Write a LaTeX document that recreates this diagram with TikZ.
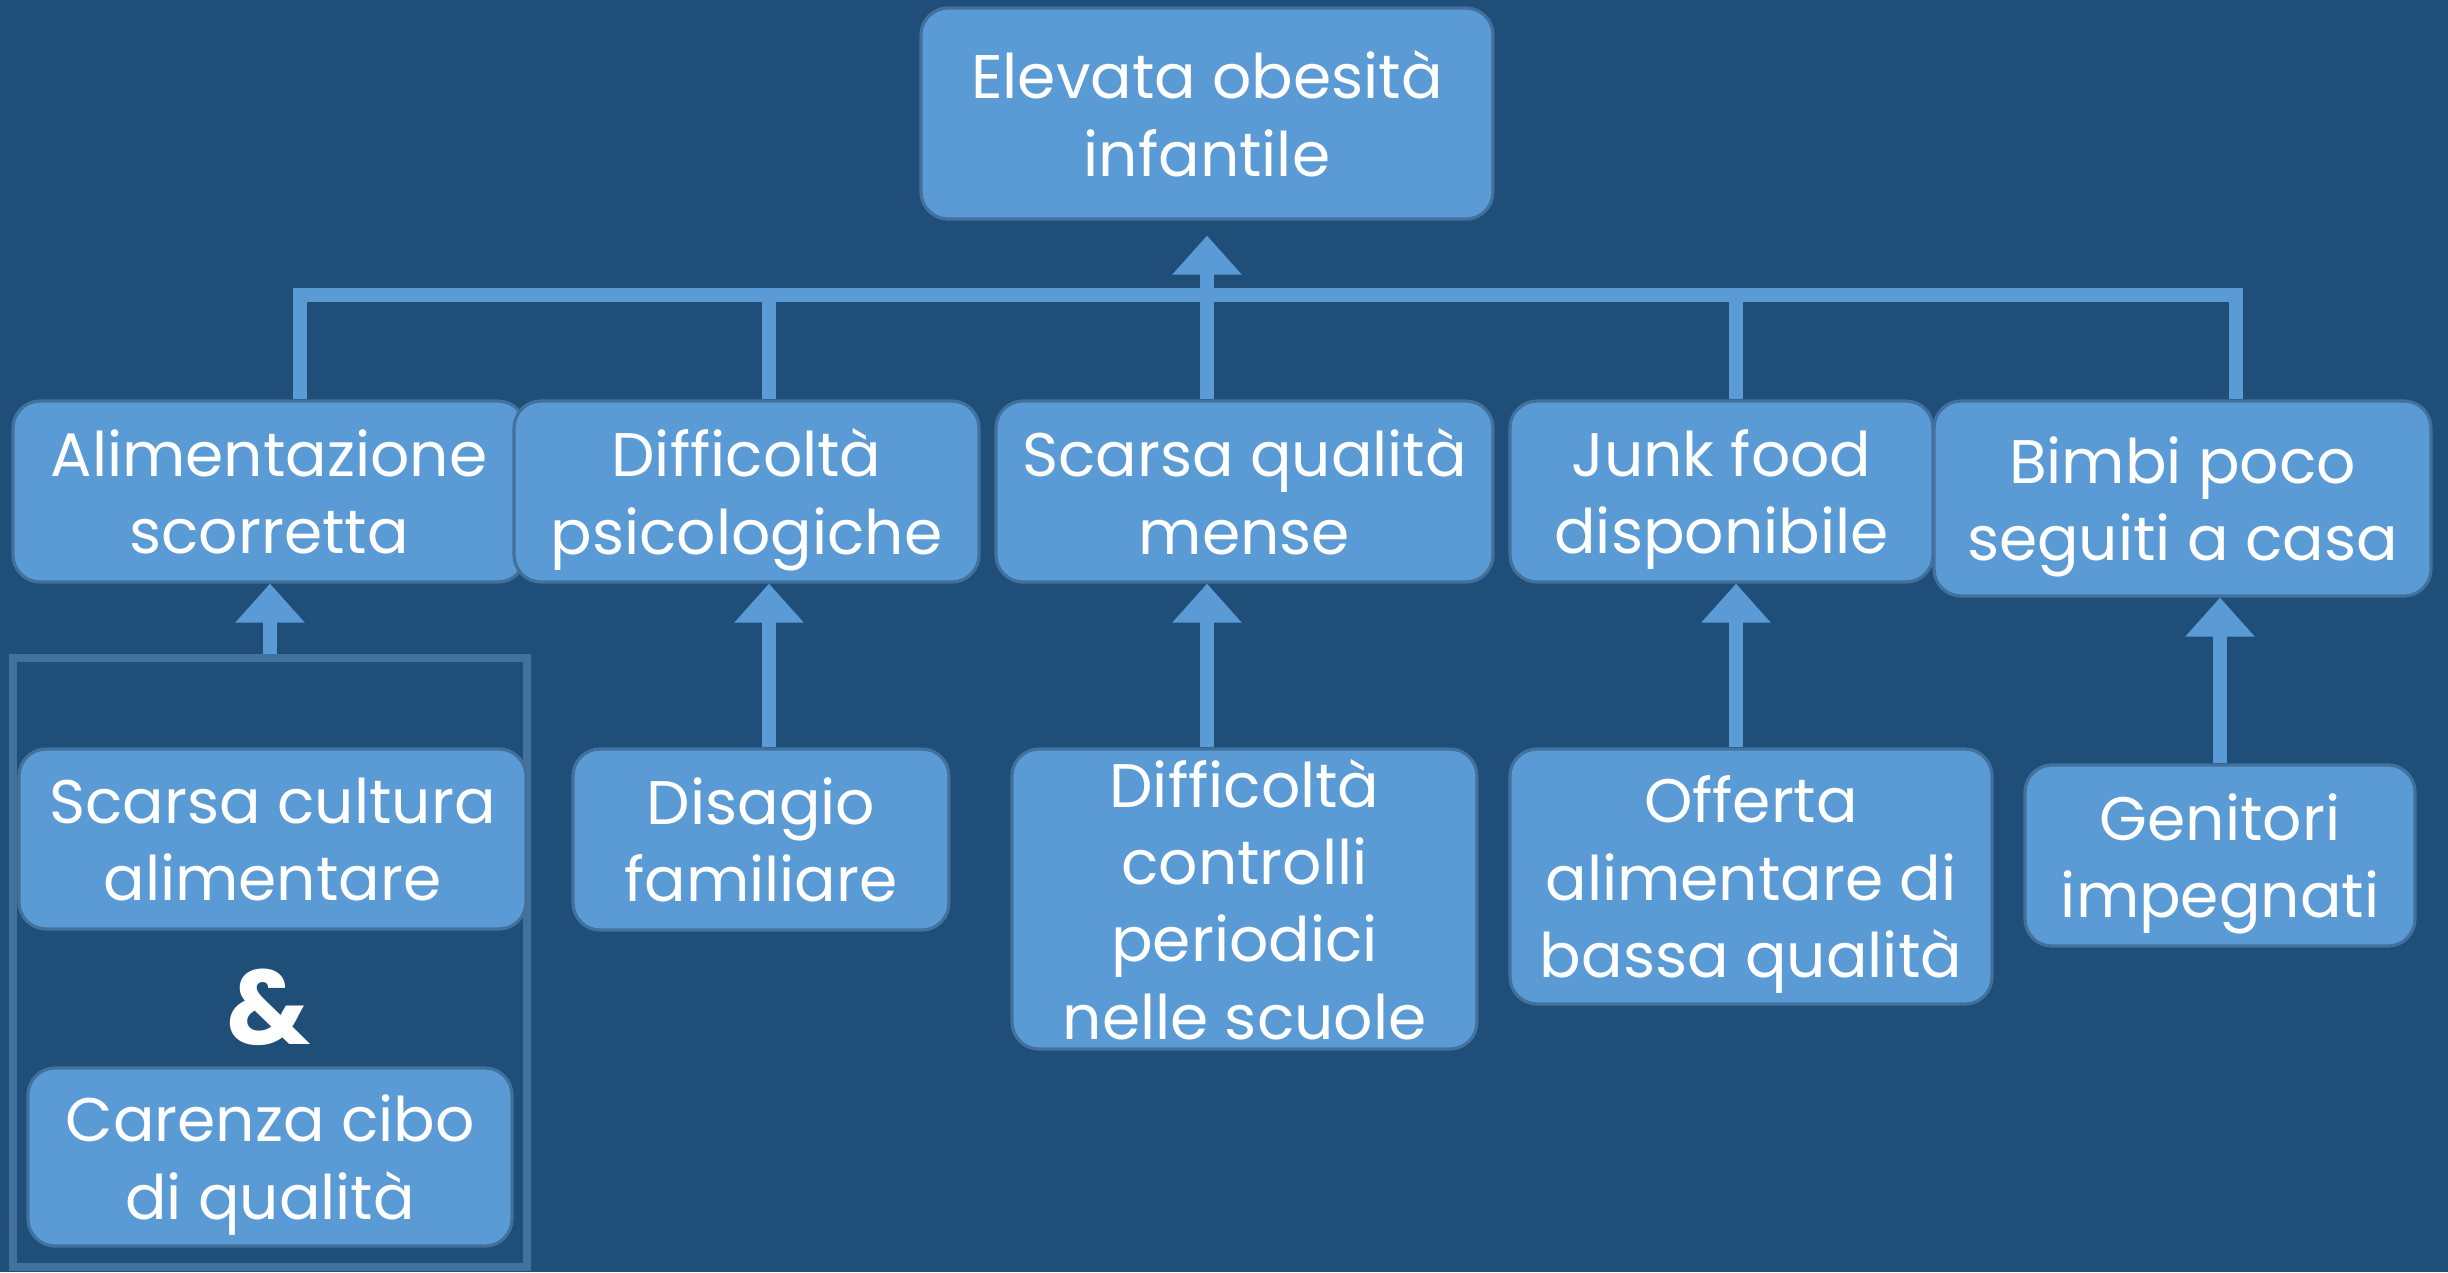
\documentclass[tikz,border=0pt]{standalone}
\usepackage{fontspec}
\setmainfont{Poppins}
\usetikzlibrary{arrows.meta}
\definecolor{bgblue}{HTML}{1F4E79}
\definecolor{boxblue}{HTML}{5B9BD5}
\definecolor{edgeblue}{HTML}{41719C}
\begin{document}
\begin{tikzpicture}[
  box/.style={rectangle,rounded corners=0.27cm,fill=boxblue,draw=edgeblue,line width=0.9pt,
    text=white,align=center,inner sep=0pt,text depth=-1pt,font=\fontsize{17.5}{22}\selectfont},
  link/.style={draw=boxblue,line width=3.8pt},
  up/.style={link,-{Triangle[width=0.67cm,length=0.39cm]}}]
\useasboundingbox (0,0) rectangle (24.48,-12.72);
\fill[bgblue] (0,0) rectangle (24.48,-12.72);

\node[box,minimum width=5.72cm,minimum height=2.11cm] (top) at (12.07,-1.135) {Elevata obesità\\infantile};

\node[box,minimum width=5.12cm,minimum height=1.81cm] (alim) at (2.69,-4.915) {Alimentazione\\scorretta};
\node[box,minimum width=4.65cm,minimum height=1.81cm] (psic) at (7.465,-4.915) {Difficoltà\\psicologiche};
\node[box,minimum width=4.97cm,minimum height=1.81cm] (mense) at (12.445,-4.915) {Scarsa qualità\\mense};
\node[box,minimum width=4.23cm,minimum height=1.81cm] (junk) at (17.215,-4.915) {Junk food\\disponibile};
\node[box,minimum width=4.97cm,minimum height=1.95cm] (bimbi) at (21.825,-4.985) {Bimbi poco\\seguiti a casa};

\node[rectangle,draw=edgeblue,line width=0.08cm,minimum width=5.14cm,minimum height=6.09cm] (grp) at (2.70,-9.625) {};
\node[box,minimum width=5.07cm,minimum height=1.80cm] (cult) at (2.725,-8.39) {Scarsa cultura\\alimentare};
\node[text=white,font=\fontsize{30}{30}\selectfont\bfseries] (amp) at (2.69,-10.07) {\&};
\node[box,minimum width=4.84cm,minimum height=1.78cm] (cibo) at (2.70,-11.57) {Carenza cibo\\di qualità};

\node[box,minimum width=3.76cm,minimum height=1.81cm] (disagio) at (7.61,-8.395) {Disagio\\familiare};
\node[box,minimum width=4.65cm,minimum height=3.00cm] (contr) at (12.445,-8.99) {Difficoltà\\controlli\\periodici\\nelle scuole};
\node[box,minimum width=4.82cm,minimum height=2.55cm] (offerta) at (17.51,-8.765) {Offerta\\alimentare di\\bassa qualità};
\node[box,minimum width=3.90cm,minimum height=1.81cm] (genit) at (22.20,-8.555) {Genitori\\impegnati};

\coordinate (b1) at (3.00,-2.95);
\coordinate (b2) at (7.69,-2.95);
\coordinate (b4) at (17.36,-2.95);
\coordinate (b5) at (22.36,-2.95);

\draw[link] (b1 |- alim.north) -- (b1) -- (b5) -- (b5 |- bimbi.north);
\draw[link] (b2) -- (b2 |- psic.north);
\draw[link] (b4) -- (b4 |- junk.north);
\draw[up,shorten >=0.15cm] (top.south |- mense.north) -- (top.south);

\draw[up] (grp.north) -- (grp.north |- alim.south);
\draw[up] (b2 |- disagio.north) -- (b2 |- psic.south);
\draw[up] (top.south |- contr.north) -- (top.south |- mense.south);
\draw[up] (b4 |- offerta.north) -- (b4 |- junk.south);
\draw[up] (genit.north) -- (genit.north |- bimbi.south);
\end{tikzpicture}
\end{document}
